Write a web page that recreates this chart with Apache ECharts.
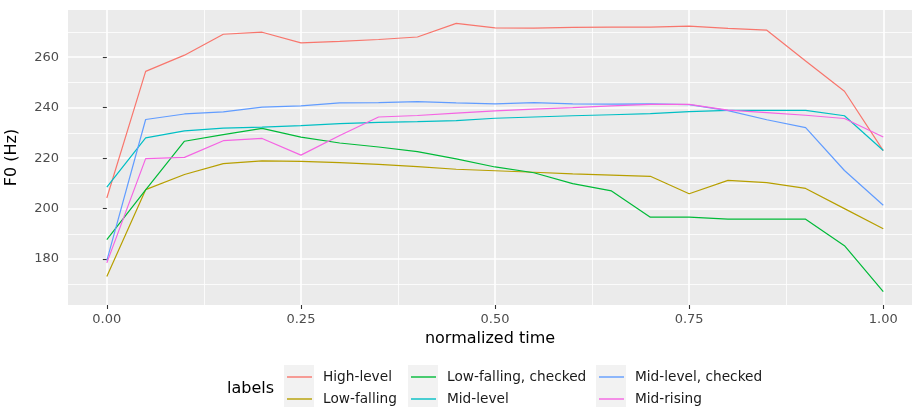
<!DOCTYPE html>
<html>
<head>
<meta charset="utf-8">
<script src="https://cdn.jsdelivr.net/npm/echarts@6/dist/echarts.min.js"></script>
<style>
html,body{margin:0;padding:0;background:#fff;}
#chart{width:912px;height:407px;}
</style>
</head>
<body>
<div id="chart"></div>
<script>
// ---- data ----
const times = [0,0.05,0.1,0.15,0.2,0.25,0.3,0.35,0.4,0.45,0.5,0.55,0.6,0.65,0.7,0.75,0.8,0.85,0.9,0.95,1.0];
const seriesNames = ['High-level','Low-falling','Low-falling, checked','Mid-level','Mid-level, checked','Mid-rising'];
const highLevel        = [204.2,254.4,260.8,269.1,269.9,265.7,266.3,267.0,268.0,273.4,271.6,271.5,271.8,271.9,271.9,272.3,271.4,270.7,258.5,246.5,223.0];
const lowFalling       = [173.1,207.5,213.5,217.8,218.9,218.7,218.2,217.5,216.6,215.6,215.0,214.4,213.8,213.3,212.8,205.9,211.2,210.3,208.0,200.0,192.0];
const lowFallingChecked= [187.7,207.4,226.7,229.3,231.8,228.3,226.0,224.4,222.6,219.7,216.5,214.2,209.9,207.0,196.6,196.6,195.8,195.8,195.8,185.3,167.1];
const midLevel         = [208.5,228.0,230.8,231.9,232.3,232.9,233.7,234.2,234.5,234.9,235.8,236.3,236.8,237.2,237.6,238.4,238.9,238.9,238.9,236.8,223.0];
const midLevelChecked  = [179.4,235.3,237.5,238.3,240.2,240.7,241.9,242.0,242.4,241.9,241.5,242.0,241.5,241.4,241.5,241.2,238.8,235.2,232.1,215.1,201.3];
const midRising        = [178.5,219.8,220.3,226.9,227.8,221.2,229.0,236.3,236.9,237.8,238.7,239.4,240.0,240.7,241.3,241.3,239.0,238.0,237.0,235.7,228.4];
const xTicks = [0,0.25,0.5,0.75,1];
const xMinorTicks = [0.125,0.375,0.625,0.875];
const yTicks = [180,200,220,240,260];
const yMinorTicks = [170,190,210,230,250,270];

const values = [highLevel,lowFalling,lowFallingChecked,midLevel,midLevelChecked,midRising];
const colors = ['#F8766D','#B79F00','#00BA38','#00BFC4','#619CFF','#F564E3'];

const FONT = 'DejaVu Sans';
const X_MIN = -0.05, X_MAX = 1.037;
const Y_MIN = 161.8, Y_MAX = 278.7;

const series = seriesNames.map((name,i)=>({
  name: name,
  type: 'line',
  xAxisIndex: 0,
  yAxisIndex: 0,
  showSymbol: false,
  symbol: 'none',
  color: colors[i],
  lineStyle: {width: 1.2, color: colors[i]},
  data: times.map((t,j)=>[t, values[i][j]]),
  animation: false,
  z: 5
}));

// legend layout: columns (by column, 2 rows each)
const legendCols = [{iconLeft:287, boxLeft:284}, {iconLeft:411, boxLeft:408}, {iconLeft:599, boxLeft:596}];
const rowTops = [366, 388];
const legends = seriesNames.map((name,i)=>{
  const col = Math.floor(i/2), row = i%2;
  return {
    data: [name],
    left: legendCols[col].iconLeft,
    top: rowTops[row],
    orient: 'vertical',
    icon: 'rect',
    itemWidth: 25,
    itemHeight: 1.4,
    padding: 0,
    selectedMode: false,
    textStyle: {fontFamily: FONT, fontSize: 13.7, color: '#1a1a1a', lineHeight: 22, padding: [0,0,0,6]}
  };
});

const graphics = [];
legendCols.forEach(c=>{
  graphics.push({type:'rect', left:c.boxLeft, top:365, shape:{width:30, height:42}, style:{fill:'#F2F2F2'}, z:-1, silent:true});
});

const chart = echarts.init(document.getElementById('chart'), null, {renderer:'canvas'});
chart.setOption({
  backgroundColor: '#ffffff',
  animation: false,
  title: {text:'labels', left:227, top:381, padding:0, textStyle:{fontFamily:FONT, fontSize:16, fontWeight:'normal', color:'#000'}},
  grid: {left: 68, right: 0, top: 10, bottom: 102, show: true, backgroundColor: '#EBEBEB', borderWidth: 0, containLabel: false, outerBoundsMode: 'none'},
  legend: legends,
  graphic: graphics,
  xAxis: [
    {
      type: 'value', min: X_MIN, max: X_MAX,
      axisLine: {show: false},
      axisTick: {show: true, length: 4, customValues: xTicks, lineStyle: {color: '#333333', width: 1.1}},
      axisLabel: {show: true, customValues: xTicks, margin: 8, color: '#4D4D4D', fontFamily: FONT, fontSize: 13, formatter: v => v.toFixed(2)},
      splitLine: {show: true, lineStyle: {color: '#ffffff', width: 1.6}},
      name: 'normalized time', nameLocation: 'middle', nameGap: 22,
      nameTextStyle: {fontFamily: FONT, fontSize: 16, color: '#000'}
    },
    {
      type: 'value', min: X_MIN, max: X_MAX, position: 'bottom',
      axisLine: {show: false},
      axisTick: {show: false, customValues: xMinorTicks},
      axisLabel: {show: false, customValues: xMinorTicks},
      splitLine: {show: true, lineStyle: {color: '#ffffff', width: 0.8}}
    }
  ],
  yAxis: [
    {
      type: 'value', min: Y_MIN, max: Y_MAX,
      axisLine: {show: false},
      axisTick: {show: true, length: 4, customValues: yTicks, lineStyle: {color: '#333333', width: 1.1}},
      axisLabel: {show: true, customValues: yTicks, margin: 9, color: '#4D4D4D', fontFamily: FONT, fontSize: 13},
      splitLine: {show: true, lineStyle: {color: '#ffffff', width: 1.6}},
      name: 'F0 (Hz)', nameLocation: 'middle', nameGap: 48, nameRotate: 90,
      nameTextStyle: {fontFamily: FONT, fontSize: 16, color: '#000'}
    },
    {
      type: 'value', min: Y_MIN, max: Y_MAX, position: 'left',
      axisLine: {show: false},
      axisTick: {show: false, customValues: yMinorTicks},
      axisLabel: {show: false, customValues: yMinorTicks},
      splitLine: {show: true, lineStyle: {color: '#ffffff', width: 0.8}}
    }
  ],
  series: series
});
</script>
</body>
</html>
